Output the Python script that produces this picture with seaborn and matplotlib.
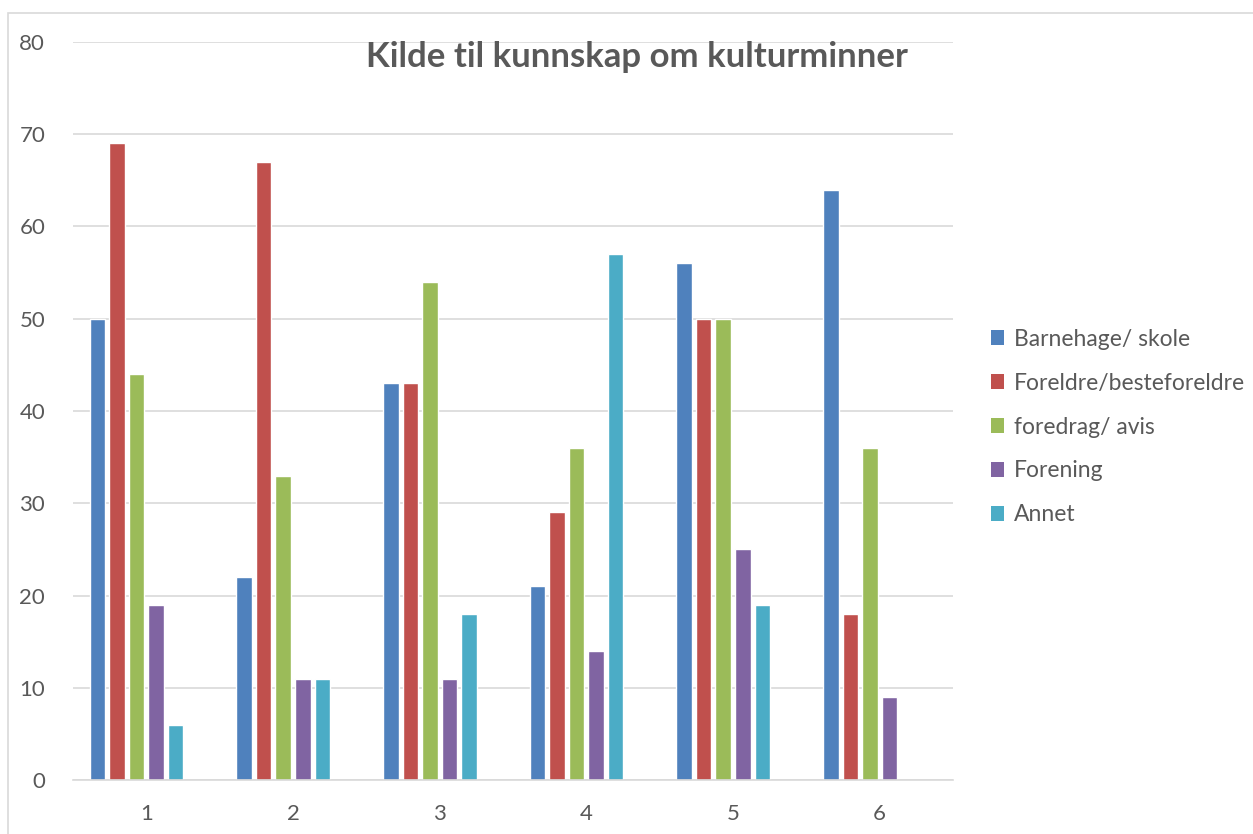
import numpy as np
import pandas as pd
import seaborn as sns
import matplotlib.pyplot as plt
from matplotlib.patches import Patch, Rectangle

# data
groups = ["1", "2", "3", "4", "5", "6"]
series = ["Barnehage/ skole", "Foreldre/besteforeldre", "foredrag/ avis", "Forening", "Annet"]
barnehage = [50, 22, 43, 21, 56, 64]
foreldre = [69, 67, 43, 29, 50, 18]
foredrag = [44, 33, 54, 36, 50, 36]
forening = [19, 11, 11, 14, 25, 9]
annet = [6, 11, 18, 57, 19, np.nan]
colors = ["#4F81BD", "#C0504D", "#9BBB59", "#8064A2", "#4BACC6"]

rows = []
for name, vals in zip(series, [barnehage, foreldre, foredrag, forening, annet]):
    for g, v in zip(groups, vals):
        rows.append({"gruppe": g, "kilde": name, "antall": v})
# Excel chart has an empty sixth series slot
for g in groups:
    rows.append({"gruppe": g, "kilde": "_tom", "antall": np.nan})
df = pd.DataFrame(rows)

sns.set_style("white")
plt.rcParams['font.family'] = ['Lato', 'DejaVu Sans']
grey = "#595959"

fig = plt.figure(figsize=(12.53, 8.34), dpi=100)
ax = fig.add_axes([73/1253, 1-780/834, 880/1253, 738/834])

sns.barplot(data=df, x="gruppe", y="antall", hue="kilde",
            hue_order=series + ["_tom"], palette=colors + ["#ffffff"], saturation=1,
            width=0.8, gap=0.2, order=groups, errorbar=None, legend=False, ax=ax)

ax.set_ylim(0, 80)
ax.set_yticks(range(0, 81, 10))
ax.set_xlim(-0.5, 5.5)
ax.yaxis.grid(True, color="#d9d9d9", linewidth=1.2)
ax.set_axisbelow(True)
for s in ["top", "right", "left"]:
    ax.spines[s].set_visible(False)
ax.spines["bottom"].set_color("#d9d9d9")
ax.spines["bottom"].set_linewidth(1.2)
ax.tick_params(axis="both", length=0, labelsize=16, labelcolor=grey)
ax.tick_params(axis="y", pad=20)
ax.tick_params(axis="x", pad=17)
ax.set_xlabel("")
ax.set_ylabel("")

fig.text(637/1253, 1-57/834, "Kilde til kunnskap om kulturminner", ha="center", va="center",
         fontsize=25, fontweight="bold", color=grey)

handles = [Patch(facecolor=c, edgecolor="none") for c in colors]
fig.legend(handles, series, loc="center left", bbox_to_anchor=(970/1253, 1-427/834),
           frameon=False, fontsize=16.5, labelcolor=grey, handlelength=0.6, handleheight=0.6,
           handletextpad=0.4, labelspacing=1.0)

fig.patches.append(Rectangle((8/1253, -0.1), 1.2, 1-13/834+0.1, transform=fig.transFigure,
                             fill=False, edgecolor="#d9d9d9", linewidth=1.2))

fig.savefig("out.png", dpi=100)
